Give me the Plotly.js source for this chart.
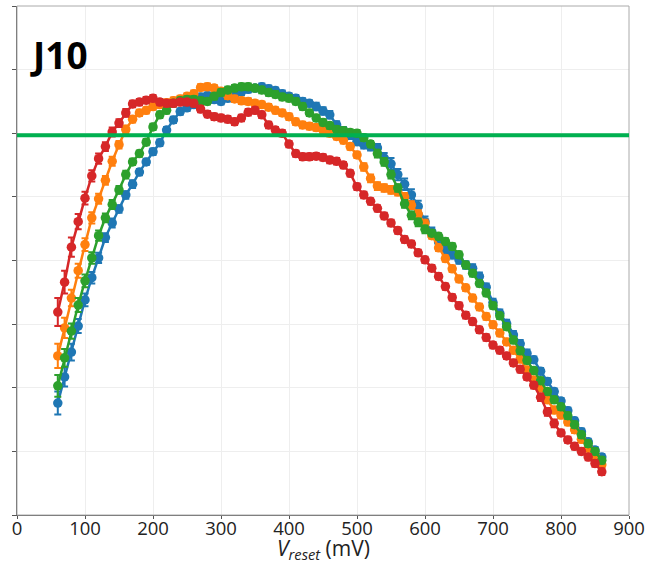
<!DOCTYPE html>
<html>
<head>
<meta charset="utf-8">
<script src="https://cdn.plot.ly/plotly-3.0.1.min.js"></script>
<style>html,body{margin:0;padding:0;background:#fff;}#chart{width:649px;height:564px;}</style>
</head>
<body>
<div id="chart"></div>
<script>
const vReset = [60,70,80,90,100,110,120,130,140,150,160,170,180,190,200,210,220,230,240,250,260,270,280,290,300,310,320,330,340,350,360,370,380,390,400,410,420,430,440,450,460,470,480,490,500,510,520,530,540,550,560,570,580,590,600,610,620,630,640,650,660,670,680,690,700,710,720,730,740,750,760,770,780,790,800,810,820,830,840,850,860];

const blueY = [1.76,2.17,2.56,2.97,3.38,3.73,4.04,4.36,4.59,4.81,5.03,5.20,5.39,5.55,5.71,5.85,6.05,6.21,6.34,6.40,6.45,6.57,6.59,6.53,6.50,6.55,6.60,6.65,6.69,6.71,6.73,6.70,6.67,6.62,6.58,6.55,6.50,6.47,6.42,6.35,6.29,6.13,6.04,5.97,5.87,5.82,5.79,5.77,5.61,5.52,5.35,5.20,5.03,4.85,4.61,4.45,4.29,4.17,4.09,4.01,3.93,3.88,3.75,3.58,3.34,3.17,3.01,2.83,2.69,2.54,2.44,2.26,2.10,1.94,1.79,1.64,1.48,1.31,1.15,1.02,0.91];
const orangeY = [2.50,2.94,3.41,3.84,4.25,4.67,4.97,5.26,5.56,5.82,6.06,6.22,6.32,6.36,6.42,6.45,6.48,6.51,6.54,6.58,6.62,6.72,6.73,6.71,6.66,6.59,6.54,6.51,6.50,6.47,6.45,6.41,6.36,6.32,6.26,6.18,6.13,6.11,6.09,6.05,6.00,5.95,5.89,5.79,5.66,5.47,5.29,5.17,5.14,5.11,5.08,5.00,4.87,4.73,4.58,4.39,4.20,4.03,3.87,3.71,3.57,3.41,3.27,3.12,2.99,2.86,2.72,2.59,2.45,2.28,2.12,2.00,1.81,1.65,1.57,1.46,1.34,1.19,1.05,0.93,0.79];
const greenY = [2.03,2.47,2.89,3.30,3.68,4.04,4.39,4.67,4.88,5.11,5.35,5.55,5.68,5.86,6.10,6.29,6.36,6.47,6.51,6.53,6.53,6.51,6.50,6.58,6.64,6.68,6.71,6.73,6.73,6.71,6.68,6.64,6.61,6.57,6.55,6.50,6.42,6.32,6.24,6.17,6.12,6.06,6.04,6.01,6.00,5.93,5.83,5.68,5.55,5.35,5.14,4.89,4.71,4.60,4.49,4.43,4.38,4.30,4.22,4.09,3.93,3.80,3.64,3.49,3.29,3.13,2.96,2.75,2.58,2.43,2.27,2.11,1.94,1.81,1.70,1.56,1.42,1.26,1.12,1.00,0.86];
const redY = [3.19,3.66,4.21,4.61,4.98,5.33,5.60,5.79,6.02,6.16,6.32,6.46,6.49,6.52,6.55,6.49,6.47,6.47,6.49,6.49,6.47,6.38,6.30,6.26,6.24,6.22,6.18,6.24,6.33,6.36,6.29,6.13,6.05,6.00,5.83,5.68,5.63,5.63,5.64,5.62,5.58,5.56,5.50,5.37,5.16,5.03,4.93,4.82,4.70,4.59,4.47,4.33,4.26,4.12,4.01,3.88,3.75,3.59,3.42,3.29,3.14,3.04,2.91,2.79,2.67,2.59,2.50,2.39,2.29,2.17,2.04,1.85,1.62,1.44,1.29,1.18,1.08,1.00,0.91,0.81,0.68];

const blueErr = [0.18,0.15,0.13,0.11,0.10,0.09,0.08,0.07,0.07,0.06,0.06,0.06,0.05,0.05,0.05,0.05,0.05,0.05,0.05,0.05,0.05,0.05,0.05,0.05,0.05,0.05,0.05,0.05,0.05,0.05,0.05,0.05,0.05,0.05,0.05,0.05,0.05,0.05,0.06,0.06,0.06,0.06,0.06,0.06,0.06,0.06,0.06,0.06,0.08,0.09,0.09,0.09,0.09,0.09,0.08,0.07,0.07,0.06,0.06,0.06,0.06,0.06,0.06,0.06,0.06,0.06,0.06,0.06,0.06,0.06,0.05,0.05,0.05,0.05,0.05,0.05,0.05,0.05,0.05,0.05,0.05];
const orangeErr = [0.19,0.16,0.13,0.11,0.10,0.09,0.08,0.07,0.07,0.06,0.06,0.05,0.05,0.05,0.05,0.05,0.05,0.05,0.05,0.05,0.05,0.05,0.05,0.05,0.05,0.05,0.05,0.05,0.05,0.05,0.05,0.05,0.05,0.05,0.05,0.05,0.05,0.05,0.05,0.05,0.05,0.05,0.05,0.05,0.05,0.06,0.06,0.06,0.06,0.06,0.06,0.06,0.06,0.06,0.06,0.05,0.05,0.05,0.05,0.05,0.05,0.05,0.05,0.05,0.05,0.05,0.05,0.05,0.05,0.05,0.05,0.05,0.05,0.05,0.05,0.05,0.05,0.05,0.05,0.05,0.05];
const greenErr = [0.17,0.14,0.12,0.11,0.10,0.09,0.08,0.07,0.07,0.06,0.06,0.05,0.05,0.05,0.05,0.05,0.05,0.05,0.05,0.05,0.05,0.05,0.05,0.05,0.05,0.05,0.05,0.05,0.05,0.05,0.05,0.05,0.05,0.05,0.05,0.05,0.05,0.05,0.05,0.05,0.05,0.05,0.05,0.05,0.05,0.05,0.05,0.06,0.06,0.06,0.06,0.06,0.06,0.06,0.06,0.05,0.05,0.05,0.05,0.05,0.05,0.05,0.05,0.05,0.05,0.05,0.05,0.05,0.05,0.05,0.05,0.05,0.05,0.05,0.05,0.05,0.05,0.05,0.05,0.05,0.05];
const redErr = [0.22,0.18,0.15,0.12,0.10,0.09,0.08,0.07,0.07,0.06,0.06,0.05,0.05,0.05,0.05,0.05,0.05,0.05,0.05,0.05,0.05,0.05,0.05,0.05,0.05,0.05,0.05,0.05,0.05,0.05,0.05,0.05,0.05,0.05,0.05,0.05,0.05,0.05,0.05,0.05,0.05,0.05,0.05,0.05,0.05,0.05,0.05,0.05,0.05,0.05,0.05,0.05,0.05,0.05,0.05,0.05,0.05,0.05,0.05,0.05,0.05,0.05,0.05,0.05,0.05,0.05,0.05,0.05,0.05,0.05,0.05,0.06,0.06,0.06,0.05,0.05,0.05,0.05,0.05,0.05,0.05];

const refLevel = 5.97;
const xTicks = [0,100,200,300,400,500,600,700,800,900];
const panelLabel = 'J10';
const xTitle = '<i>V</i><sub><i>reset</i></sub> (mV)';

const colors = ['#1f77b4','#ff7f0e','#2ca02c','#d62728'];
const seriesY = [blueY, orangeY, greenY, redY];
const seriesErr = [blueErr, orangeErr, greenErr, redErr];

const traces = seriesY.map((ys, i) => ({
  type: 'scatter',
  mode: 'lines+markers',
  x: vReset,
  y: ys,
  error_y: {type: 'data', array: seriesErr[i], visible: true, color: colors[i], thickness: 2, width: 3.5},
  line: {color: colors[i], width: 2.5},
  marker: {color: colors[i], size: 9.5},
  showlegend: false,
  hoverinfo: 'skip'
}));

const layout = {
  width: 649,
  height: 564,
  margin: {l: 17, r: 20, t: 6, b: 49},
  paper_bgcolor: '#ffffff',
  plot_bgcolor: '#ffffff',
  font: {family: 'Open Sans, DejaVu Sans, sans-serif', color: '#222'},
  xaxis: {
    range: [0, 900],
    tickvals: xTicks,
    ticktext: xTicks.map(String),
    showgrid: true,
    gridcolor: '#eeeeee',
    gridwidth: 1,
    zeroline: false,
    showline: true,
    linecolor: '#555',
    linewidth: 1.3,
    ticks: 'outside',
    ticklen: 3,
    tickcolor: '#555',
    ticklabelstandoff: -7,
    tickfont: {size: 18.5, family: 'Open Sans, sans-serif', color: '#222'}
  },
  yaxis: {
    range: [0, 8],
    dtick: 1,
    tick0: 0,
    showticklabels: false,
    showgrid: true,
    gridcolor: '#eeeeee',
    gridwidth: 1,
    zeroline: false,
    showline: true,
    linecolor: '#555',
    linewidth: 1.3,
    ticks: 'outside',
    ticklen: 4,
    tickcolor: '#555'
  },
  shapes: [
    {type: 'rect', xref: 'paper', yref: 'paper', x0: 0, x1: 1, y0: 0, y1: 1, line: {color: '#aaaaaa', width: 1}, layer: 'above'},
    {type: 'line', xref: 'paper', yref: 'y', x0: 0, x1: 1, y0: refLevel, y1: refLevel, line: {color: '#00b050', width: 4}, layer: 'above'}
  ],
  annotations: [
    {text: '<b>' + panelLabel + '</b>', xref: 'paper', yref: 'paper', x: 0.018, y: 0.905, xanchor: 'left', yanchor: 'middle', showarrow: false, font: {size: 37, family: 'Open Sans, sans-serif', color: '#000'}},
    {text: xTitle, xref: 'paper', yref: 'paper', x: 0.5, y: -0.066, xanchor: 'center', yanchor: 'middle', showarrow: false, font: {size: 21, family: 'Open Sans, sans-serif', color: '#222'}}
  ]
};

Plotly.newPlot('chart', traces, layout, {displayModeBar: false, staticPlot: true});
</script>
</body>
</html>
